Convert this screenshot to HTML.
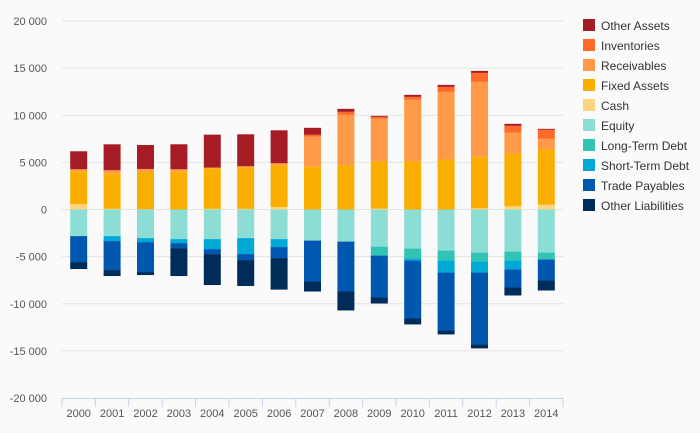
<!DOCTYPE html>
<html><head><meta charset="utf-8"><style>
html,body{margin:0;padding:0;background:#fafafa;}
svg{display:block;font-family:"Liberation Sans",sans-serif;}
</style></head><body>
<svg id="chart" width="700" height="433">
<rect width="700" height="433" fill="#fafafa"/>
<g id="grid"></g><g id="bars"></g><g id="axes"></g><g id="legend"></g>
</svg>
<script>
const years=["2000","2001","2002","2003","2004","2005","2006","2007","2008","2009","2010","2011","2012","2013","2014"];
const yTicks=[20000,15000,10000,5000,0,-5000,-10000,-15000,-20000];
const seriesNames=["Other Assets","Inventories","Receivables","Fixed Assets","Cash","Equity","Long-Term Debt","Short-Term Debt","Trade Payables","Other Liabilities"];
const seriesColors=["#a51c24","#ff6a2a","#ff9a48","#f9ae00","#fdd57e","#8cded4","#31c3b3","#00a8d6","#0057b0","#002c5a"];
const cash=[565,70,30,0,70,70,247,0,0,88,0,0,124,335,512];
const fixedAssets=[3495,3777,3954,4060,4307,4413,4448,4536,4677,5013,5101,5313,5472,5613,5860];
const receivables=[212,318,318,212,70,106,212,3177,5366,4518,6531,7166,7943,2189,1130];
const inventories=[0,0,0,0,0,0,0,212,318,212,318,530,953,741,953];
const otherAssets=[1906,2753,2542,2648,3495,3389,3495,741,318,106,212,212,212,212,106];
const equity=[2824,2824,3036,3142,3142,3036,3142,3300,3406,3936,4148,4360,4571,4465,4571];
const longTermDebt=[0,0,0,0,0,0,0,0,0,953,1059,1059,953,953,741];
const shortTermDebt=[0,530,424,424,1059,1694,847,0,0,0,212,1271,1165,953,0];
const tradePayables=[2753,3071,3177,530,530,635,1165,4342,5295,4448,6142,6142,7625,1906,2224];
const otherLiabilities=[741,635,318,2965,3283,2753,3346,1059,2012,635,635,424,424,847,1059];

const X0=62,X1=563,Y0=21,Y1=398;
const band=(X1-X0)/years.length;
const y=v=>Y1-(v+20000)/40000*(Y1-Y0);
const xc=i=>X0+band*(i+0.5);
const NS="http://www.w3.org/2000/svg";
function mk(tag,attrs,parent){const e=document.createElementNS(NS,tag);for(const k in attrs)e.setAttribute(k,attrs[k]);parent.appendChild(e);return e;}
const grid=document.getElementById('grid'),bars=document.getElementById('bars'),axes=document.getElementById('axes'),legend=document.getElementById('legend');
yTicks.forEach(t=>{
  if(t!==-20000){const l=mk('line',{x1:X0,x2:X1,y1:y(t),y2:y(t),stroke:'#e3e3e3','stroke-width':1},grid);
  
  }
  const tx=mk('text',{x:47,y:y(t)+4,'text-anchor':'end','font-size':11,fill:'#555'},axes);
  tx.textContent=(t<0?'-':'')+Math.abs(t).toLocaleString('en-US').replace(',',' ');
  
  
});
const pos=[[cash,4],[fixedAssets,3],[receivables,2],[inventories,1],[otherAssets,0]];
const neg=[[equity,5],[longTermDebt,6],[shortTermDebt,7],[tradePayables,8],[otherLiabilities,9]];
const bw=17;
years.forEach((yr,i)=>{
  let acc=0;
  pos.forEach(([arr,c])=>{const v=arr[i];if(v<=0)return;const r=mk('rect',{x:xc(i)-bw/2,y:y(acc+v),width:bw,height:y(acc)-y(acc+v),fill:seriesColors[c]},bars);
    
    acc+=v;});
  acc=0;
  neg.forEach(([arr,c])=>{const v=arr[i];if(v<=0)return;const r=mk('rect',{x:xc(i)-bw/2,y:y(acc),width:bw,height:y(acc-v)-y(acc),fill:seriesColors[c]},bars);
    
    acc-=v;});
  const tx=mk('text',{x:xc(i),y:417,'text-anchor':'middle','font-size':11,fill:'#555'},axes);
  tx.textContent=yr;
  
  
});
const al=mk('line',{x1:X0,x2:X1,y1:Y1+0.5,y2:Y1+0.5,stroke:'#c5d3ea'},axes);


for(let i=0;i<=years.length;i++){const t=mk('line',{x1:X0+band*i,x2:X0+band*i,y1:Y1,y2:Y1+9,stroke:'#c5d3ea'},axes);
  
  }
seriesNames.forEach((n,k)=>{
  const g=mk('g',{},legend);
  
  
  mk('rect',{x:583,y:19+k*20,width:12,height:12,fill:seriesColors[k]},g);
  const t=mk('text',{x:601,y:30+k*20,'font-size':12,fill:'#333'},g);t.textContent=n;
});
</script>
</body></html>
